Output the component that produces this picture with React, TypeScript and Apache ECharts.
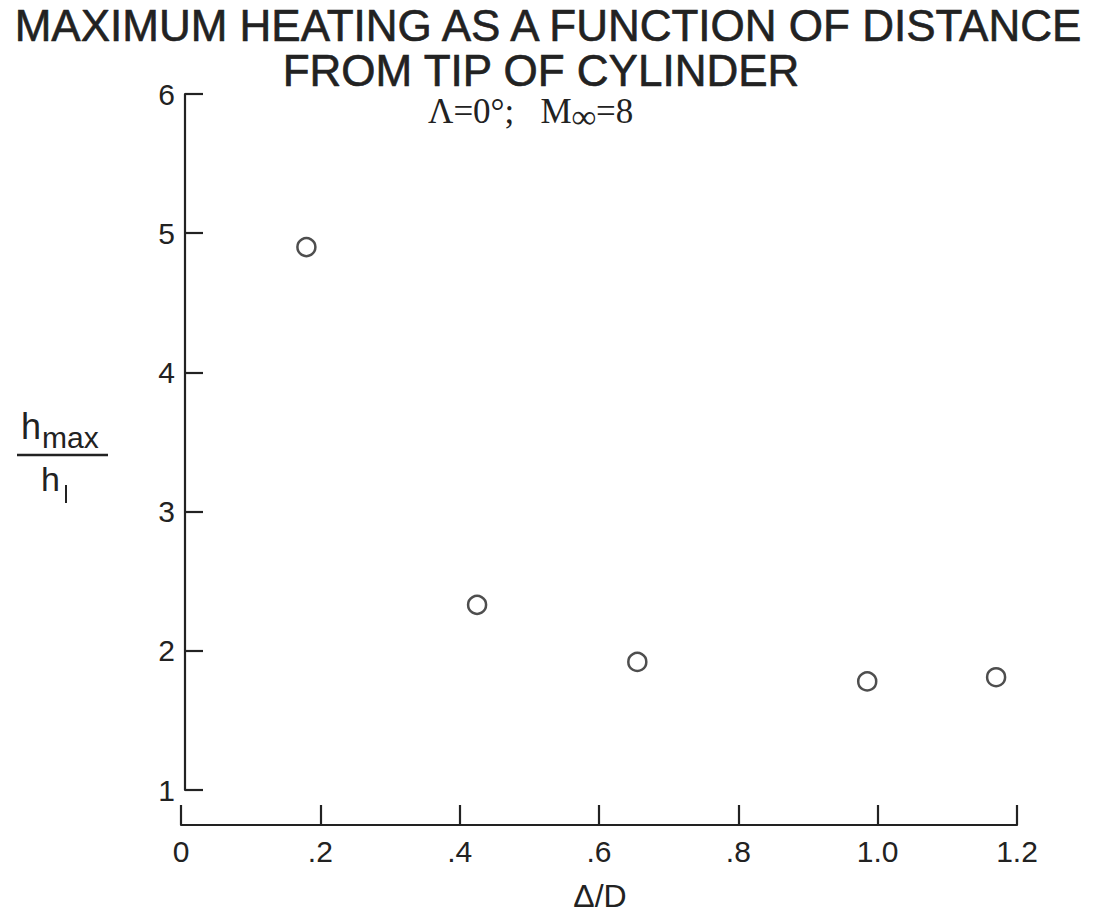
import React, { useEffect, useRef } from "react";
import * as echarts from "echarts";

const xValues = [0.18, 0.425, 0.655, 0.985, 1.17];
const yValues = [4.9, 2.33, 1.92, 1.78, 1.81];
const xTickLabels: Record<string, string> = { "0": "0", "0.2": ".2", "0.4": ".4", "0.6": ".6", "0.8": ".8", "1": "1.0", "1.2": "1.2" };
const titleLine1 = "MAXIMUM HEATING AS A FUNCTION OF DISTANCE";
const titleLine2 = "FROM TIP OF CYLINDER";
const xAxisName = "Δ/D";

const FONT = "Liberation Sans";
const INK = "#222";

export default function App() {
  const ref = useRef<HTMLDivElement>(null);
  useEffect(() => {
    const chart = echarts.init(ref.current!, null, { renderer: "svg" });
    const points = xValues.map((x, i) => [x, yValues[i]]);
    chart.setOption({
      animation: false,
      backgroundColor: "#fff",
      grid: { left: 181, right: 79, top: 94, bottom: 123 },
      xAxis: {
        type: "value",
        min: 0,
        max: 1.2,
        interval: 0.2,
        offset: 35,
        axisLine: { show: true, lineStyle: { color: INK, width: 2.2 } },
        axisTick: { show: true, inside: true, length: 20, lineStyle: { color: INK, width: 2.2 } },
        splitLine: { show: false },
        axisLabel: {
          color: INK,
          fontFamily: FONT,
          fontSize: 30,
          margin: 11,
          formatter: (v: number) => xTickLabels[String(Math.round(v * 10) / 10)] ?? String(v),
        },
      },
      yAxis: {
        type: "value",
        min: 1,
        max: 6,
        interval: 1,
        offset: -4,
        axisLine: { show: true, lineStyle: { color: INK, width: 2.2 } },
        axisTick: { show: true, inside: true, length: 18, lineStyle: { color: INK, width: 2.2 } },
        splitLine: { show: false },
        axisLabel: { color: INK, fontFamily: FONT, fontSize: 30, margin: 10 },
      },
      series: [
        {
          type: "scatter",
          data: points,
          symbol: "circle",
          symbolSize: 18,
          itemStyle: { color: "#fff", borderColor: INK, borderWidth: 2.5 },
        },
      ],
      graphic: [
        {
          type: "text",
          x: 548,
          y: 25,
          style: { text: titleLine1, font: `44px '${FONT}'`, fill: INK, stroke: INK, lineWidth: 0.6, align: "center", verticalAlign: "middle" },
        },
        {
          type: "text",
          x: 541,
          y: 70,
          style: { text: titleLine2, font: `44px '${FONT}'`, fill: INK, stroke: INK, lineWidth: 0.6, align: "center", verticalAlign: "middle" },
        },
        {
          type: "text",
          x: 428,
          y: 111,
          style: {
            text: "{a|Λ=0°;   M}{s|∞}{a|=8}",
            fill: INK,
            align: "left",
            verticalAlign: "middle",
            rich: {
              a: { fontFamily: "Liberation Serif", fontSize: 35, color: INK, lineHeight: 34 },
              s: { fontFamily: "Liberation Serif", fontSize: 34, fontWeight: "bold", color: INK, lineHeight: 34, padding: [10, 0, 0, 0] },
            },
          },
        },
        {
          type: "text",
          x: 21,
          y: 444,
          style: { text: "h", font: `36px '${FONT}'`, fill: INK, align: "left", verticalAlign: "bottom" },
        },
        {
          type: "text",
          x: 42,
          y: 452,
          style: { text: "max", font: `30px '${FONT}'`, fill: INK, align: "left", verticalAlign: "bottom" },
        },
        {
          type: "line",
          shape: { x1: 17, y1: 455, x2: 108, y2: 455 },
          style: { stroke: INK, lineWidth: 2.5 },
        },
        {
          type: "text",
          x: 41,
          y: 496,
          style: { text: "h", font: `34px '${FONT}'`, fill: INK, align: "left", verticalAlign: "bottom" },
        },
        {
          type: "line",
          shape: { x1: 66, y1: 485, x2: 66, y2: 503 },
          style: { stroke: INK, lineWidth: 2 },
        },
        {
          type: "text",
          x: 600,
          y: 896,
          style: { text: xAxisName, font: `32px '${FONT}'`, fill: INK, align: "center", verticalAlign: "middle" },
        },
      ],
    });
    return () => chart.dispose();
  }, []);
  return <div ref={ref} style={{ position: "fixed", left: 0, top: 0, width: 1096, height: 913 }} />;
}
